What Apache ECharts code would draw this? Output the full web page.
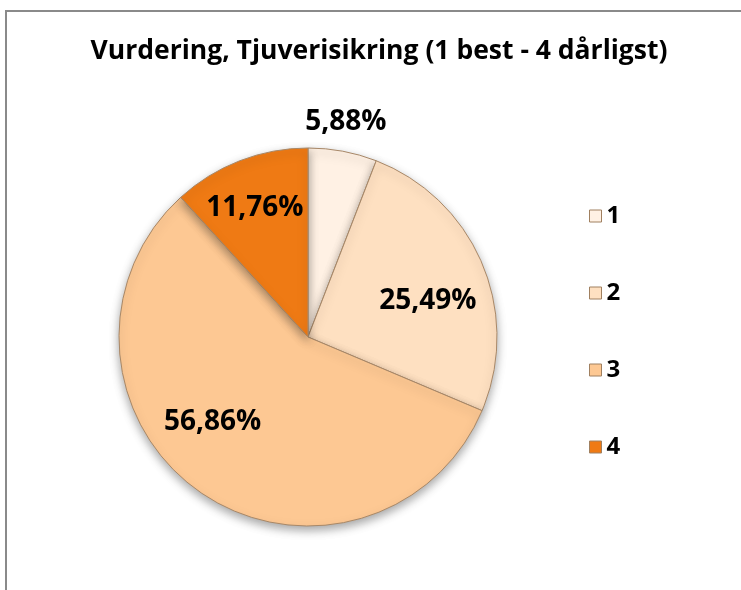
<!DOCTYPE html>
<html>
<head>
<meta charset="utf-8">
<title>Vurdering, Tjuverisikring</title>
<script src="https://cdn.jsdelivr.net/npm/echarts@6/dist/echarts.min.js"></script>
<style>
  html, body { margin: 0; padding: 0; background: #fff; }
  #chart { width: 741px; height: 590px; }
</style>
</head>
<body>
<div id="chart"></div>
<script>
// data
var categories = ['1', '2', '3', '4'];
var percentValues = [5.88, 25.49, 56.86, 11.76];
var sliceColors = ['#fff1e4', '#fee0c1', '#fdc893', '#ef7a14'];

// nudges so labels sit where the original put them
var labelShift = [[20, -119], [30, 2], [-39, 5], [-18, -38]];

var myChart = echarts.init(document.getElementById('chart'));

var pieData = categories.map(function (name, i) {
  return {
    name: name,
    value: percentValues[i],
    itemStyle: { color: sliceColors[i] }
  };
});

var option = {
  animation: false,
  backgroundColor: '#fff',
  title: {
    text: 'Vurdering, Tjuverisikring (1 best - 4 dårligst)',
    left: 379,
    top: 38,
    textAlign: 'center',
    padding: 0,
    textStyle: {
      fontFamily: 'Open Sans',
      fontWeight: 'bold',
      fontSize: 26.5,
      color: '#000'
    }
  },
  legend: {
    orient: 'vertical',
    left: 584,
    top: 199,
    itemWidth: 12,
    itemHeight: 12,
    itemGap: 53,
    icon: 'rect',
    data: categories,
    itemStyle: { borderColor: '#a08060', borderWidth: 1 },
    textStyle: {
      fontFamily: 'Open Sans',
      fontWeight: 'bold',
      fontSize: 24,
      lineHeight: 24,
      color: '#000'
    }
  },
  graphic: [
    {
      type: 'rect',
      shape: { x: 6, y: 11, width: 900, height: 800 },
      style: { fill: 'none', stroke: '#8a8a8a', lineWidth: 2 },
      silent: true
    }
  ],
  series: [
    {
      type: 'pie',
      center: [308, 337],
      radius: 189,
      startAngle: 90,
      clockwise: true,
      data: pieData,
      itemStyle: {
        borderColor: '#a88868',
        borderWidth: 1,
        shadowBlur: 10,
        shadowOffsetY: 4,
        shadowColor: 'rgba(0,0,0,0.35)'
      },
      label: {
        position: 'inside',
        formatter: function (p) {
          return p.value.toFixed(2).replace('.', ',') + '%';
        },
        fontFamily: 'Open Sans',
        fontWeight: 'bold',
        fontSize: 28,
        color: '#000'
      },
      labelLine: { show: false },
      labelLayout: function (params) {
        var s = labelShift[params.dataIndex];
        return { dx: s[0], dy: s[1] };
      },
      emphasis: { disabled: true }
    }
  ]
};

myChart.setOption(option);
</script>
</body>
</html>
